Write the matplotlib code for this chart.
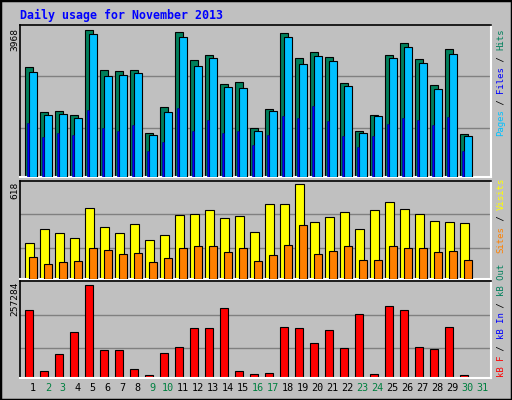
import matplotlib
matplotlib.use("Agg")
import matplotlib.pyplot as plt
from matplotlib.patches import Rectangle

days = list(range(1, 32))
hits = [2971,1760,1786,1679,3968,2891,2864,2891,1194,1894,3914,3160,3295,2514,2568,1329,1840,3887,3214,3375,3241,2541,1248,1679,3295,3618,3187,2487,3456,1167,0]
files = [2837,1679,1706,1598,3860,2729,2756,2810,1140,1760,3779,2998,3214,2433,2406,1248,1786,3779,3052,3268,3133,2460,1194,1652,3214,3510,3079,2379,3322,1113,0]
pages = [1463,1086,1194,1140,1813,1329,1248,1409,709,952,1867,1248,1544,1194,1248,871,1140,1652,1598,1921,1517,1113,817,1113,1436,1598,1544,1409,1625,709,0]
visits = [236,324,303,270,464,337,303,357,257,290,417,424,451,397,411,310,491,491,618,370,404,437,324,451,504,457,424,377,370,364,0]
sites = [143,96,109,116,203,190,163,170,109,136,203,216,216,176,203,116,156,223,350,163,183,216,123,123,216,203,203,176,183,123,0]
kbytes = [186860,20658,65730,127700,257284,77000,77000,23475,9390,68545,85450,138970,138970,192490,20658,12207,15024,141785,138970,96716,133336,82630,175590,12207,198125,186860,85450,79813,141785,9390,0]
weekend = [2,3,9,10,16,17,23,24,30,31]

W, H = 512, 400
fig = plt.figure(figsize=(W/100, H/100), dpi=100)
fig.patch.set_facecolor('#C0C0C0')
fig.patches.append(Rectangle((0, 0), 1, 1, transform=fig.transFigure, fill=False,
                             edgecolor='black', linewidth=2.5))
mono = 'DejaVu Sans Mono'
bg = '#C0C0C0'
lw = 0.8
xl = (1 - 5.3/15, 1 - 5.3/15 + 471/15)

def mk(top, bottom):
    ax = fig.add_axes([20/W, 1 - bottom/H, 471/W, (bottom - top)/H])
    ax.set_facecolor(bg)
    ax.set_xlim(*xl)
    ax.set_xticks([]); ax.set_yticks([])
    for s in ['top', 'left']:
        ax.spines[s].set_color('black'); ax.spines[s].set_linewidth(1.2)
    for s in ['bottom', 'right']:
        ax.spines[s].set_color('white'); ax.spines[s].set_linewidth(1.5)
    return ax

def grid(ax, vals):
    for v in vals:
        ax.axhline(v, color='#808080', lw=1, zorder=0)

ax1 = mk(25, 177)
m = max(hits)
ax1.set_ylim(0, m * 152 / 147.4)
grid(ax1, [m * 0.335, m * 0.683])
d = [x for x, h in zip(days, hits) if h > 0]
ax1.bar(d, hits[:len(d)], width=0.49, align='edge', color='#00805C', edgecolor='black', lw=lw, zorder=2)
ax1.bar([x + 0.27 for x in d], files[:len(d)], width=0.49, align='edge', color='#00C0FF', edgecolor='black', lw=lw, zorder=3)
ax1.bar([x + 0.09 for x in d], pages[:len(d)], width=0.17, align='edge', color='#0000FF', edgecolor='#000080', lw=0.4, zorder=4)

ax2 = mk(180.7, 279)
m2 = max(visits)
ax2.set_ylim(0, m2 * 288 / 277)
grid(ax2, [m2 * 0.33, m2 * 0.686])
ax2.bar(d, visits[:len(d)], width=0.56, align='edge', color='#FFFF00', edgecolor='black', lw=lw, zorder=2)
ax2.bar([x + 0.27 for x in d], sites[:len(d)], width=0.49, align='edge', color='#FF8000', edgecolor='black', lw=lw, zorder=3)

ax3 = mk(281, 378)
m3 = max(kbytes)
ax3.set_ylim(0, m3 * 285 / 274)
grid(ax3, [m3 * 0.32, m3 * 0.68])
ax3.bar(d, kbytes[:len(d)], width=0.49, align='edge', color='#FF0000', edgecolor='black', lw=lw, zorder=2)

for x in days:
    ax3.text(x + 0.5, -0.05, str(x), transform=ax3.get_xaxis_transform(), ha='center', va='top',
             fontsize=7.3, family=mono, color='#008040' if x in weekend else 'black')

fig.text(20/W, 1 - 15/H, 'Daily usage for November 2013', family=mono, fontweight='bold',
         fontsize=8.4, color='#0000FF', va='center', ha='left')

def left_label(txt, ytop):
    fig.text(15/W, 1 - ytop/H, txt, rotation=90, rotation_mode='anchor', ha='right', va='center',
             family=mono, fontsize=6.8, color='black')

left_label(str(max(hits)), 28)
left_label(str(max(visits)), 182)
left_label(str(max(kbytes)), 282)

c = 5.37
def right_label(pieces, ytop=None, ybottom=None):
    n = sum(len(p) for p, _ in pieces)
    y0 = ybottom if ybottom is not None else ytop + n * c
    k = 0
    for p, col in pieces:
        fig.text(501/W, 1 - (y0 - k * c)/H, p, rotation=90, rotation_mode='anchor', ha='left',
                 va='center', family=mono, fontsize=6.45, color=col)
        k += len(p)

right_label([('Pages', '#00C0FF'), (' / ', 'black'), ('Files', '#0000FF'), (' / ', 'black'), ('Hits', '#00805C')], ytop=29)
right_label([('Sites', '#FF8000'), (' / ', 'black'), ('Visits', '#FFFF00')], ytop=178)
right_label([('kB F', '#FF0000'), (' / ', 'black'), ('kB In', '#0000FF'), (' / ', 'black'), ('kB Out', '#00805C')], ybottom=377)

fig.savefig('out.png', dpi=100, facecolor=fig.get_facecolor())
